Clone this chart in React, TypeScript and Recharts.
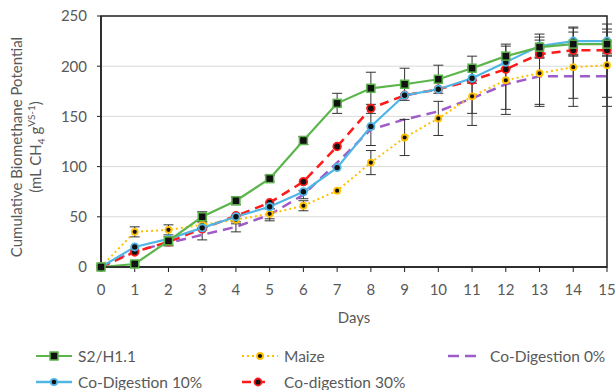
import React from 'react';
import { LineChart, Line, XAxis, YAxis, CartesianGrid, ErrorBar, ReferenceArea } from 'recharts';

const days = [0, 1, 2, 3, 4, 5, 6, 7, 8, 9, 10, 11, 12, 13, 14, 15];
const s2 = [0, 3, 26, 50, 66, 88, 126, 163, 178, 182, 187, 198, 210, 219, 222, 222];
const maize = [0, 35, 37, 42, 47, 53, 61, 76, 104, 129, 148, 170, 186, 193, 199, 201];
const co0 = [0, 16, 24, 32, 40, 52, 72, 104, 137, 147, 155, 168, 182, 190, 190, 190];
const co10 = [0, 20, 28, 39, 50, 60, 75, 99, 140, 171, 177, 188, 204, 220, 225, 225];
const co30 = [0, 15, 25, 38, 51, 64, 85, 120, 158, 171, 177, 186, 197, 212, 216, 216];

const s2Err = [0, 2, 4, 5, 4, 3, 4, 10, 16, 16, 14, 12, 12, 10, 12, 12];
const maizeErr = [0, 5, 5, 3, 4, 5, 5, 0, 12, 18, 17, 29, 34, 33, 39, 41];
const co0Err = [0, 0, 3, 5, 5, 6, 4, 0, 16, 0, 0, 15, 25, 28, 22, 21];
const co10Err = [0, 0, 0, 0, 0, 0, 0, 0, 0, 0, 0, 0, 0, 12, 14, 12];

const yTicks = [0, 50, 100, 150, 200, 250];

const data = days.map((d, i) => ({
  day: d,
  s2: s2[i],
  maize: maize[i],
  co0: co0[i],
  co10: co10[i],
  co30: co30[i],
  s2Err: s2Err[i],
  maizeErr: maizeErr[i],
  co0Err: co0Err[i],
  co10Err: co10Err[i],
}));

const GREEN = '#5cb54c';
const YELLOW = '#ffc000';
const PURPLE = '#9d5cc8';
const BLUE = '#4fb6e6';
const RED = '#ff1a1a';
const FONT = 'Lato, "Open Sans", sans-serif';
const TXT = '#595959';

const squareDot = (color: string) => (p: any) => (
  <rect key={`sq-${p.index}`} x={p.cx - 4} y={p.cy - 4} width={8} height={8} fill="#111" stroke={color} strokeWidth={1.5} />
);
const circleDot = (color: string, r: number) => (p: any) => (
  <circle key={`c-${color}-${p.index}`} cx={p.cx} cy={p.cy} r={r} fill="#111" stroke={color} strokeWidth={1.8} />
);

const YLabel = () => (
  <g fontFamily={FONT} fontSize={15} fill={TXT}>
    <text transform="translate(22,147) rotate(-90)" textAnchor="middle">
      Cumulative Biomethane Potential
    </text>
    <text transform="translate(41,147) rotate(-90)" textAnchor="middle">
      (mL CH<tspan fontSize={10} dy={4}>4</tspan>
      <tspan dy={-4}> g</tspan>
      <tspan fontSize={10} dy={-6}>VS-1</tspan>
      <tspan dy={6}>)</tspan>
    </text>
  </g>
);

const LegendItem = ({ x, y, label, kind }: { x: number; y: number; label: string; kind: string }) => {
  let sample: React.ReactNode = null;
  if (kind === 's2')
    sample = (
      <g>
        <line x1={0} y1={7} x2={36} y2={7} stroke={GREEN} strokeWidth={2} />
        <rect x={14} y={3} width={8} height={8} fill="#111" stroke={GREEN} strokeWidth={1.5} />
      </g>
    );
  if (kind === 'maize')
    sample = (
      <g>
        <line x1={0} y1={7} x2={36} y2={7} stroke={YELLOW} strokeWidth={2} strokeDasharray="2 3" />
        <circle cx={18} cy={7} r={3} fill="#111" stroke={YELLOW} strokeWidth={1.8} />
      </g>
    );
  if (kind === 'co0')
    sample = <line x1={0} y1={7} x2={30} y2={7} stroke={PURPLE} strokeWidth={2.5} strokeDasharray="11 6" />;
  if (kind === 'co10')
    sample = (
      <g>
        <line x1={0} y1={7} x2={36} y2={7} stroke={BLUE} strokeWidth={2.5} />
        <circle cx={18} cy={7} r={3.2} fill="#111" stroke={BLUE} strokeWidth={1.8} />
      </g>
    );
  if (kind === 'co30')
    sample = (
      <g>
        <line x1={0} y1={7} x2={28} y2={7} stroke={RED} strokeWidth={2.5} strokeDasharray="9 5" />
        <circle cx={16} cy={7} r={3.5} fill="#111" stroke={RED} strokeWidth={1.8} />
      </g>
    );
  const w = kind === 'co0' ? 32 : 38;
  return (
    <div style={{ position: 'absolute', left: x, top: y - 9, display: 'flex', alignItems: 'center', whiteSpace: 'nowrap' }}>
      <svg width={w} height={14} style={{ marginRight: kind === 'co0' ? 10 : 4 }}>
        {sample}
      </svg>
      <span style={{ fontFamily: FONT, fontSize: 15.5, color: TXT, lineHeight: '18px' }}>{label}</span>
    </div>
  );
};

export default function App() {
  return (
    <div style={{ position: 'absolute', left: 0, top: 0, width: 616, height: 390, background: '#fff' }}>
      <LineChart width={616} height={390} data={data} margin={{ top: 16, right: 9, left: 0, bottom: 93 }}>
        <CartesianGrid horizontal vertical={false} stroke="#d9d9d9" strokeWidth={1} />
        <XAxis
          dataKey="day"
          type="number"
          domain={[0, 15]}
          ticks={days}
          interval={0}
          height={30}
          tickSize={5}
          tickMargin={12}
          axisLine={{ stroke: '#222', strokeWidth: 1.5 }}
          tickLine={{ stroke: '#222' }}
          tick={{ fill: TXT, fontSize: 15, fontFamily: FONT }}
          label={{ value: 'Days', position: 'insideBottom', offset: -26, fill: TXT, fontSize: 15, fontFamily: FONT }}
        />
        <YAxis
          type="number"
          domain={[0, 250]}
          ticks={yTicks}
          width={101}
          tickSize={4}
          tickMargin={10}
          axisLine={{ stroke: '#222', strokeWidth: 1.5 }}
          tickLine={{ stroke: '#222' }}
          tick={{ fill: TXT, fontSize: 15, fontFamily: FONT }}
          label={{ content: () => <YLabel /> }}
        />
        <ReferenceArea x1={0} x2={15} y1={0} y2={250} fill="none" stroke="#222" strokeWidth={1.5} />
        <Line
          dataKey="co0"
          stroke={PURPLE}
          strokeWidth={2.5}
          strokeDasharray="10 6"
          dot={false}
          isAnimationActive={false}
        >
          <ErrorBar dataKey="co0Err" width={5} stroke="#333" strokeWidth={1} />
        </Line>
        <Line
          dataKey="maize"
          stroke={YELLOW}
          strokeWidth={2}
          strokeDasharray="2 3"
          dot={circleDot(YELLOW, 3)}
          isAnimationActive={false}
        >
          <ErrorBar dataKey="maizeErr" width={5} stroke="#333" strokeWidth={1} />
        </Line>
        <Line
          dataKey="co30"
          stroke={RED}
          strokeWidth={2.5}
          strokeDasharray="9 6"
          dot={circleDot(RED, 3.8)}
          isAnimationActive={false}
        />
        <Line
          dataKey="co10"
          stroke={BLUE}
          strokeWidth={2.2}
          dot={circleDot(BLUE, 3.6)}
          isAnimationActive={false}
        >
          <ErrorBar dataKey="co10Err" width={5} stroke="#333" strokeWidth={1} />
        </Line>
        <Line
          dataKey="s2"
          stroke={GREEN}
          strokeWidth={2.2}
          dot={squareDot(GREEN)}
          isAnimationActive={false}
        >
          <ErrorBar dataKey="s2Err" width={5} stroke="#333" strokeWidth={1} />
        </Line>
      </LineChart>
      <LegendItem x={36} y={356} label="S2/H1.1" kind="s2" />
      <LegendItem x={242} y={356} label="Maize" kind="maize" />
      <LegendItem x={448} y={356} label="Co-Digestion 0%" kind="co0" />
      <LegendItem x={36} y={382} label="Co-Digestion 10%" kind="co10" />
      <LegendItem x={242} y={382} label="Co-digestion 30%" kind="co30" />
    </div>
  );
}
